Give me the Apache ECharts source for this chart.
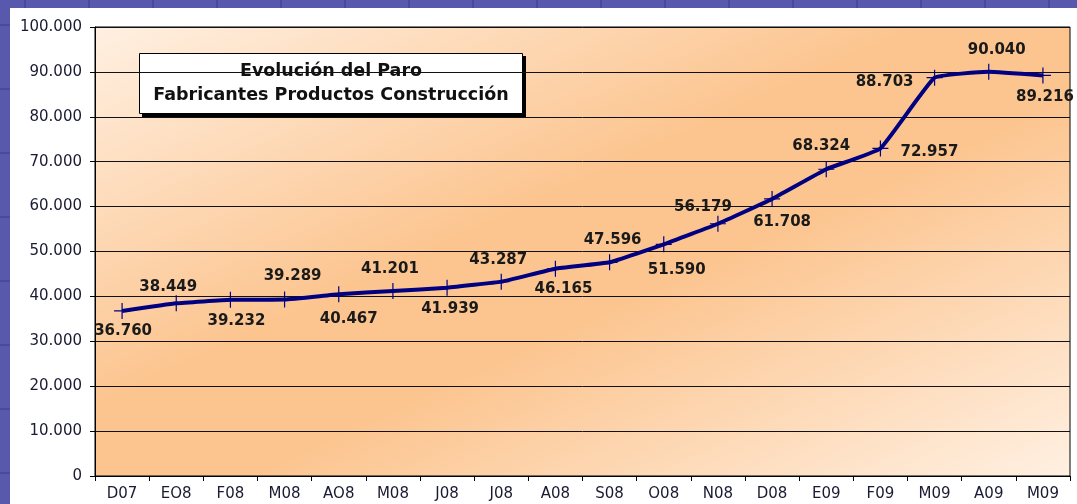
<!DOCTYPE html>
<html>
<head>
<meta charset="utf-8">
<script src="https://cdn.jsdelivr.net/npm/echarts@6/dist/echarts.min.js"></script>
<style>
  html, body {
    margin: 0;
    padding: 0;
    width: 1077px;
    height: 504px;
    overflow: hidden;
    background-color: #5858ac;
    background-image:
      repeating-linear-gradient(90deg, transparent 0, transparent 24px, #4a4a9c 24px, #4a4a9c 26px, transparent 26px, transparent 64px),
      repeating-linear-gradient(0deg, transparent 0, transparent 30px, #4a4a9c 30px, #4a4a9c 32px, transparent 32px, transparent 64px);
  }
  #main {
    position: absolute;
    left: 10px;
    top: 8px;
    width: 1067px;
    height: 496px;
    background: #ffffff;
  }
</style>
</head>
<body>
<div id="main"></div>
<script>
  // meses (eje X)
  var categories = ['D07', 'EO8', 'F08', 'M08', 'AO8', 'M08', 'J08', 'J08', 'A08', 'S08',
    'O08', 'N08', 'D08', 'E09', 'F09', 'M09', 'A09', 'M09']
  // parados por mes
  var paro = [36760, 38449, 39232, 39289, 40467, 41201, 41939, 43287, 46165, 47596,
    51590, 56179, 61708, 68324, 72957, 88703, 90040, 89216]
  var yTicks = [0, 10000, 20000, 30000, 40000, 50000, 60000, 70000, 80000, 90000, 100000]

  // desplazamiento de cada etiqueta respecto al punto (estilo)
  var labelOffsets = [[1, 20], [-8, -16], [6, 21], [8, -23], [10, 25], [-3, -22], [3, 21], [-3, -22],
    [8, 20], [3, -22], [13, 26], [-15, -17], [10, 23], [-5, -23], [49, 4], [-50, 4], [8, -22], [2, 22]]

  // 36760 -> "36.760"
  function fmt(v) {
    return String(Math.round(v)).replace(/\B(?=(\d{3})+(?!\d))/g, '.')
  }

  var chart = echarts.init(document.getElementById('main'))

  var option = {
    animation: false,
    grid: {
      left: 85,
      top: 19,
      right: 7,
      bottom: 28,
      show: true,
      borderColor: '#000',
      borderWidth: 1,
      backgroundColor: {
        type: 'linear',
        x: 0.325, y: -0.325, x2: 0.675, y2: 1.325,
        colorStops: [
          { offset: 0, color: '#fff0e2' },
          { offset: 0.42, color: '#fcc590' },
          { offset: 0.58, color: '#fcc590' },
          { offset: 1, color: '#fff0e2' }
        ]
      }
    },
    xAxis: {
      type: 'category',
      data: categories,
      boundaryGap: true,
      axisLine: { lineStyle: { color: '#000', width: 1 } },
      axisTick: { show: true, length: 5, alignWithLabel: false, lineStyle: { color: '#000' } },
      axisLabel: {
        interval: 0,
        margin: 11,
        color: '#1a1a33',
        fontFamily: 'DejaVu Sans',
        fontSize: 15
      },
      splitLine: { show: false }
    },
    yAxis: {
      type: 'value',
      min: yTicks[0],
      max: yTicks[yTicks.length - 1],
      interval: yTicks[1] - yTicks[0],
      axisLine: { show: true, lineStyle: { color: '#000', width: 1 } },
      axisTick: { show: true, length: 5, lineStyle: { color: '#000' } },
      axisLabel: {
        margin: 13,
        color: '#1a1a33',
        fontFamily: 'DejaVu Sans',
        fontSize: 15,
        formatter: function (v) { return fmt(v) }
      },
      splitLine: { show: true, lineStyle: { color: '#111', width: 1 } }
    },
    graphic: [
      {
        type: 'group',
        z: 100,
        children: [
          // sombra del recuadro del título
          {
            type: 'rect',
            shape: { x: 132, y: 48, width: 384, height: 61 },
            style: { fill: '#000' }
          },
          {
            type: 'rect',
            shape: { x: 129.5, y: 45.5, width: 383, height: 60 },
            style: { fill: '#fff', stroke: '#000', lineWidth: 1 }
          },
          {
            type: 'text',
            x: 321,
            y: 63,
            style: {
              text: 'Evolución del Paro',
              fill: '#111',
              font: 'bold 17.5px "DejaVu Sans"',
              align: 'center',
              verticalAlign: 'middle'
            }
          },
          {
            type: 'text',
            x: 321,
            y: 87,
            style: {
              text: 'Fabricantes Productos Construcción',
              fill: '#111',
              font: 'bold 17.5px "DejaVu Sans"',
              align: 'center',
              verticalAlign: 'middle'
            }
          }
        ]
      }
    ],
    series: [
      {
        name: 'Paro',
        type: 'line',
        data: paro,
        smooth: 0.1,
        symbol: 'path://M7.4,0h1.2v16h-1.2z M0,7.4h16v1.2h-16z',
        symbolSize: 16,
        showAllSymbol: true,
        lineStyle: { color: '#000080', width: 4 },
        itemStyle: { color: '#000080' },
        label: {
          show: true,
          position: 'inside',
          color: '#1a1a1a',
          fontFamily: 'DejaVu Sans',
          fontWeight: 'bold',
          fontSize: 15,
          formatter: function (p) { return fmt(p.value) }
        },
        labelLayout: function (params) {
          var o = labelOffsets[params.dataIndex]
          return { dx: o[0], dy: o[1], hideOverlap: false }
        }
      }
    ]
  }

  chart.setOption(option)
</script>
</body>
</html>
